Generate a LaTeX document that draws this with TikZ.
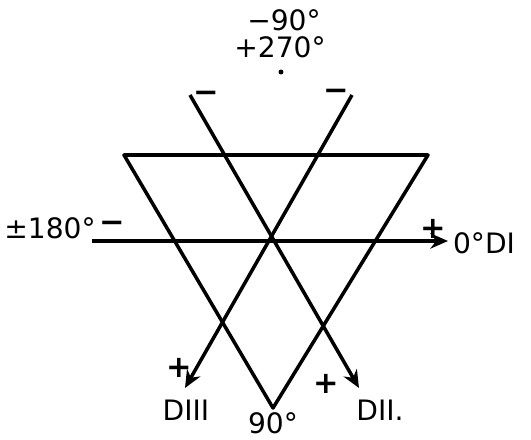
\documentclass[tikz,border=0pt]{standalone}
\usepackage{fontspec}
\setmainfont{DejaVu Sans}
\usetikzlibrary{arrows.meta, positioning}

\begin{document}
\begin{tikzpicture}[
    x=0.03cm, y=-0.03cm,
    line/.style={line width=3pt, line cap=round},
    axis/.style={line width=3pt, -{Stealth[length=15pt, width=13pt]}},
    lbl/.style={font=\fontsize{24}{26}\selectfont, inner sep=0pt},
    sign/.style={font=\fontsize{26}{28}\selectfont\bfseries, inner sep=0pt}
]
\useasboundingbox (0,0) rectangle (531,439);

% Dreieck
\coordinate (tl) at (124,155);
\coordinate (tr) at (428,155);
\coordinate (bt) at (273,408);
\draw[line, line join=round] (tl) -- (tr) -- (bt) -- cycle;

% Achsen
\coordinate (w) at (92,241);
\coordinate (e) at (448,241);
\coordinate (ls) at (190,95);
\coordinate (le) at (359,388);
\coordinate (rs) at (352,95);
\coordinate (re) at (185,388);
\draw[axis] (w) -- (e);
\draw[axis] (ls) -- (le);
\draw[axis] (rs) -- (re);

% Beschriftung oben
\node[lbl] (m90) at (284,20) {−90°};
\node[lbl] (p270) at (280,47) {+270°};
\node[circle, fill, inner sep=1.5pt] (dot) at (281,72) {};
\node[sign] (mls) at (206,97) {−};
\node[sign] (mrs) at (336,95) {−};

% links / rechts
\node[lbl] (a180) at (50,228) {±180°};
\node[sign] (m180) at (112,227) {−};
\node[sign] (p0) at (433,229) {+};
\node[lbl] (a0) at (484,243) {0°DI};

% unten
\node[sign] (pd3) at (179,368) {+};
\node[lbl] (d3) at (186,410) {DIII};
\node[sign] (pd2) at (326,384) {+};
\node[lbl] (d2) at (380,410) {DII.};
\node[lbl] (a90) at (273,423) {90°};
\end{tikzpicture}
\end{document}
